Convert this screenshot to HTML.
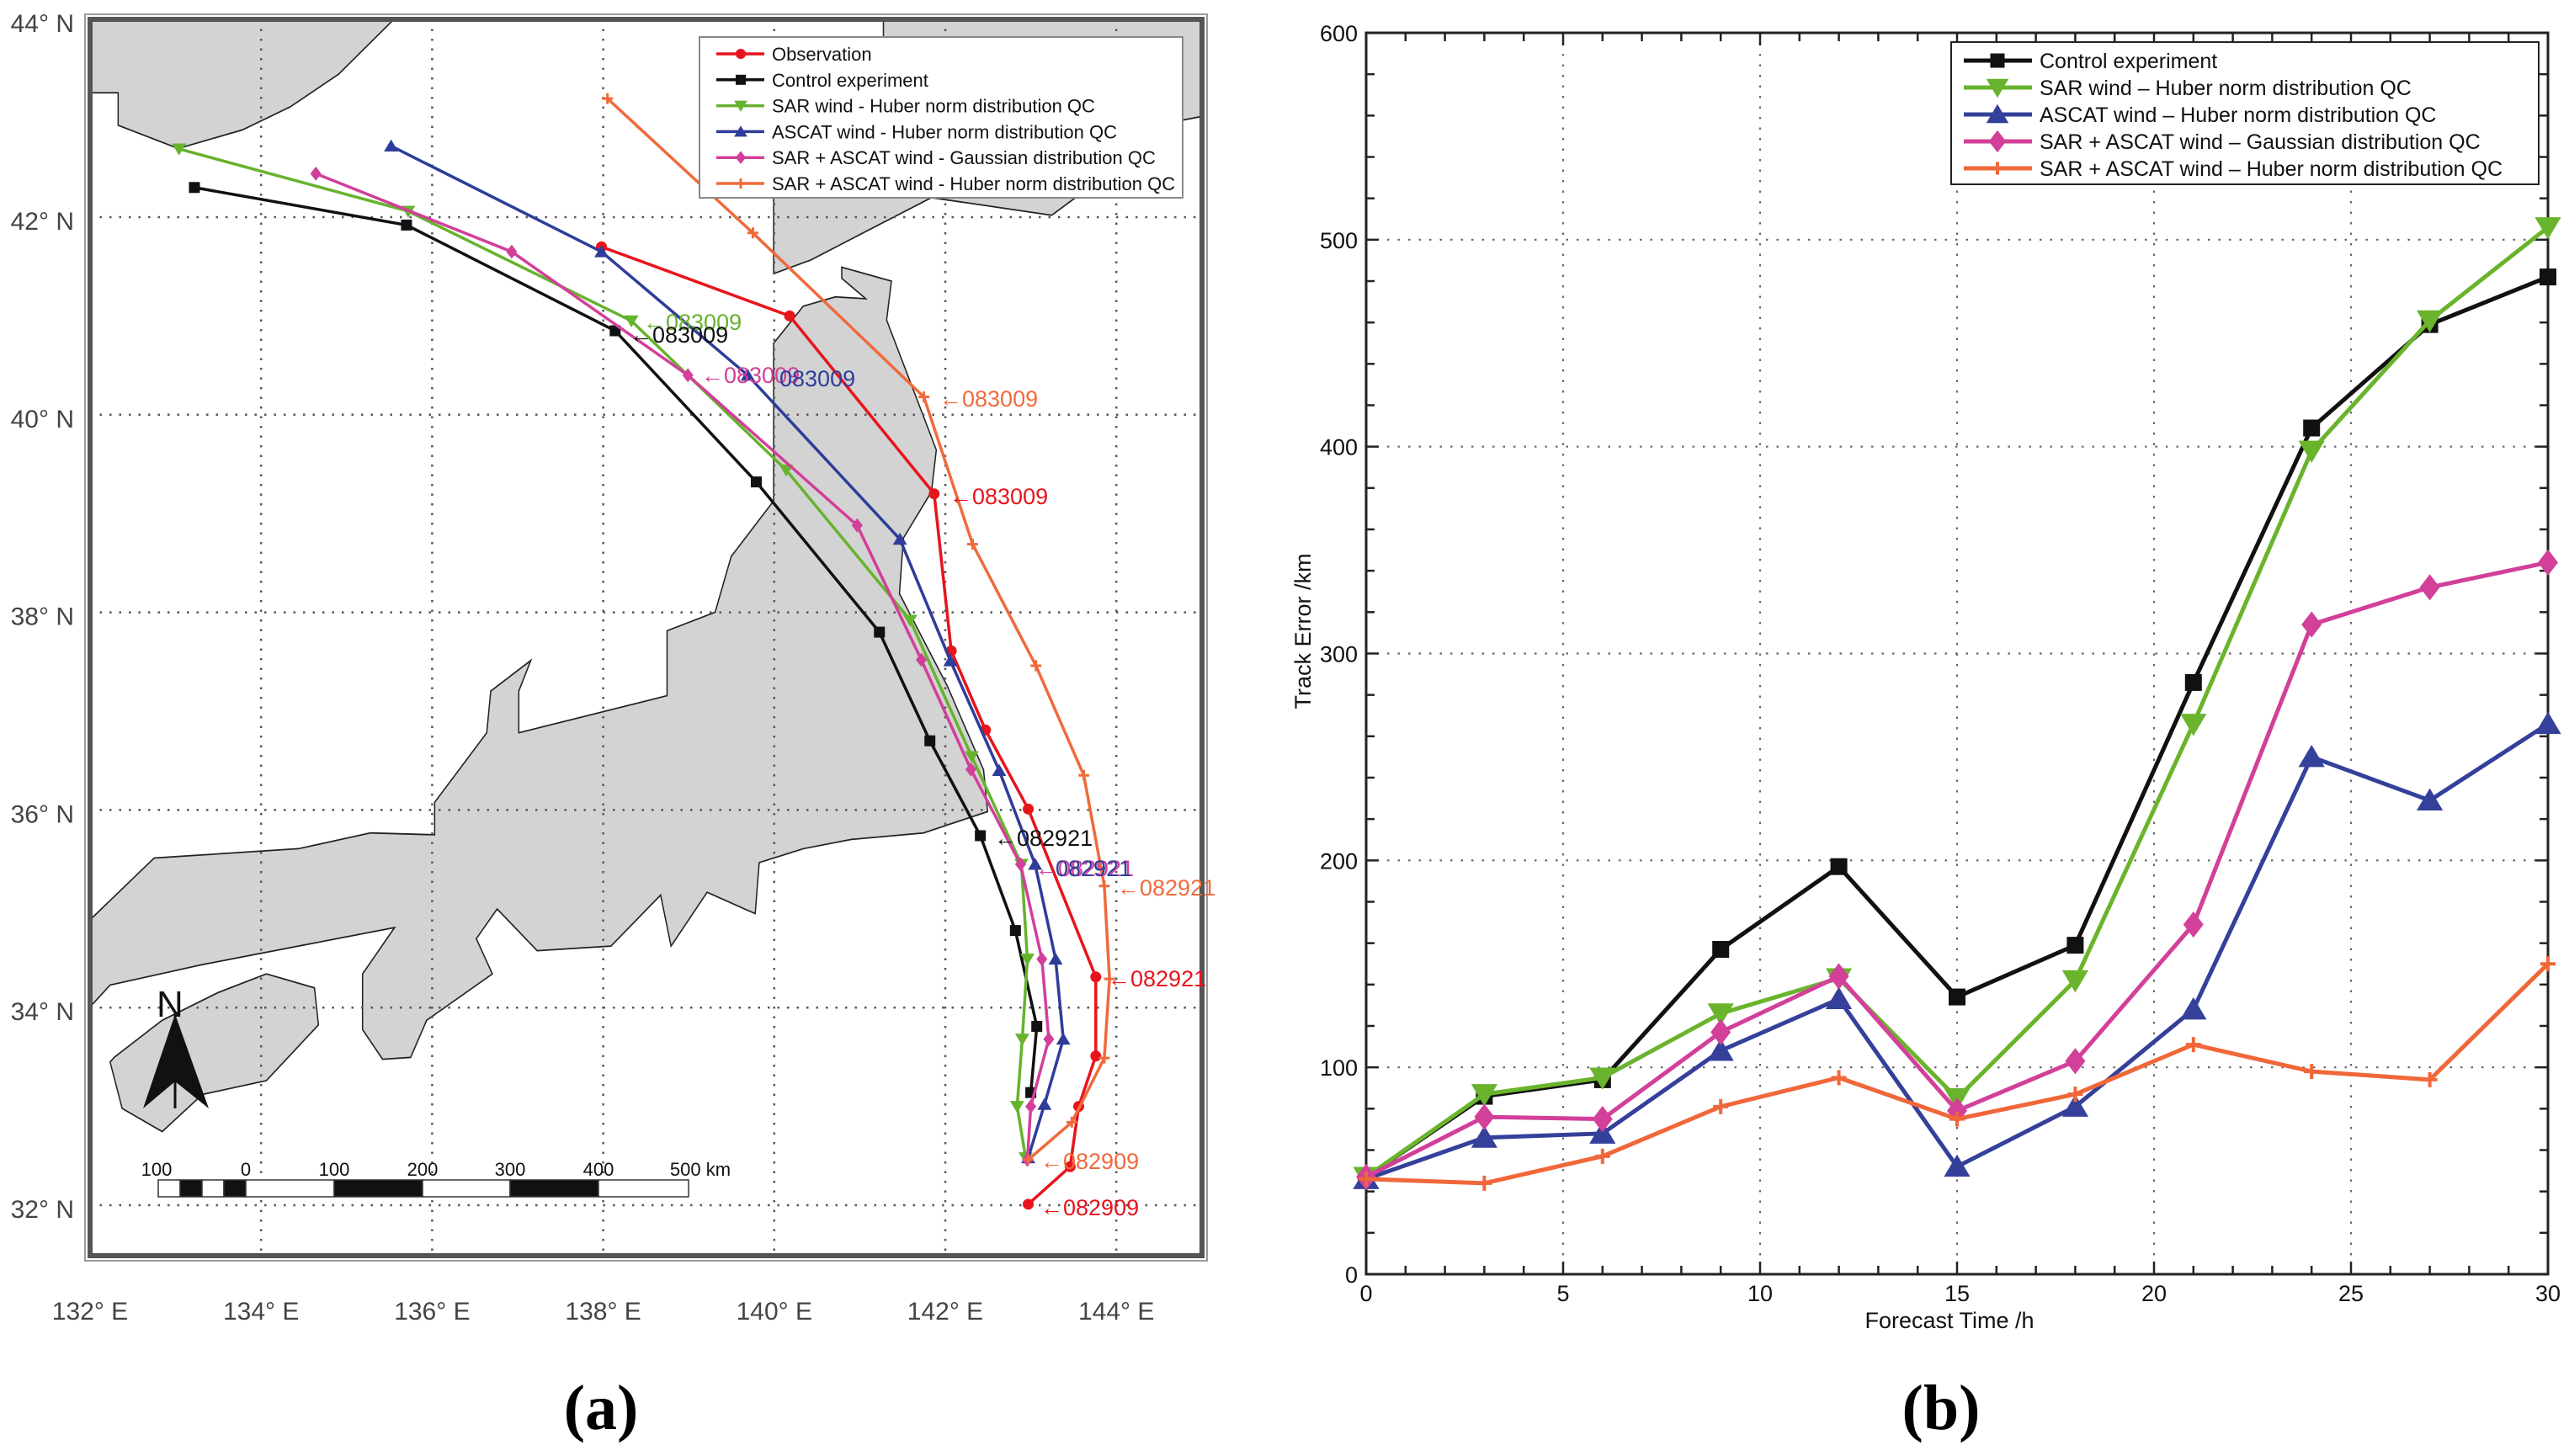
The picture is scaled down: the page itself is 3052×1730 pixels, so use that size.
<!DOCTYPE html>
<html><head><meta charset="utf-8"><style>
html,body{margin:0;padding:0;background:#fff}
svg{display:block}
text{font-family:"Liberation Sans",sans-serif}
</style></head><body>
<svg id="fig" xmlns="http://www.w3.org/2000/svg" width="3052" height="1730" viewBox="0 0 3052 1730">
<defs>
<clipPath id="mapclip"><rect x="107" y="23" width="1321" height="1469"/></clipPath>
</defs>
<g id="mapPanel">
  <g clip-path="url(#mapclip)">
    <g transform="matrix(0.952,0,0,1.102,2.3,0.1)" fill="#d3d3d3" stroke="#222" stroke-width="1.6">
      <polygon points="100,10 500,10 490,20 420,80 360,115 300,140 220,160 145,135 145,100 100,100"/>
      <polygon points="1100,10 1465,10 1500,25 1500,125 1470,130 1310,232 1160,213 1077,250 1010,280 963,295 963,213 1100,40"/>
      <polygon points="1048,288 1110,303 1104,345 1166,485 1160,530 1125,580 1120,640 1180,740 1225,830 1230,875 1150,898 1060,905 1000,915 945,930 940,985 880,962 835,1020 822,965 760,1020 668,1025 618,980 592,1012 612,1050 530,1100 510,1140 475,1142 450,1110 450,1050 490,1000 370,1020 250,1040 135,1062 100,1095 100,1000 190,925 370,915 460,898 540,900 540,865 605,790 610,745 660,712 645,745 645,790 830,750 830,680 890,660 910,600 963,540 963,370 1000,330 1040,320 1078,322 1048,300"/>
      <polygon points="140,1140 200,1100 270,1070 330,1050 390,1065 395,1105 330,1165 250,1180 200,1220 150,1195 135,1145"/>
    </g>
  </g>
  <g id="mapGrid" stroke="#555" stroke-width="2.5" stroke-dasharray="2.5 9"></g>
  <rect x="107" y="23" width="1321" height="1469" fill="none" stroke="#555" stroke-width="6"/>
  <rect x="101" y="17" width="1333" height="1481" fill="none" stroke="#999" stroke-width="2"/>
  <g id="mapAxes" fill="#444" font-size="30"></g>
  <g id="mapTracks"></g>
  <g font-size="27">
    <text x="764" y="392" fill="#66b32e">←083009</text>
    <text x="748" y="407" fill="#111">←083009</text>
    <text x="833" y="455" fill="#d23f9a">←083009</text>
    <text x="926" y="459" fill="#2e3d9a">083009</text>
    <text x="1116" y="483" fill="#f06a3c">←083009</text>
    <text x="1128" y="599" fill="#e8141c">←083009</text>
    <text x="1181" y="1005" fill="#111">←082921</text>
    <text x="1230" y="1041" fill="#d23f9a">←082921</text>
    <text x="1254" y="1041" fill="#2e3d9a">082921</text>
    <text x="1327" y="1064" fill="#f06a3c">←082921</text>
    <text x="1316" y="1172" fill="#e8141c">←082921</text>
    <text x="1236" y="1389" fill="#f06a3c">←082909</text>
    <text x="1236" y="1444" fill="#e8141c">←082909</text>
  </g>
  <g id="mapLegend"></g>
  <g id="scaleBar"></g>
  <g>
    <text x="186" y="1208" font-size="44" fill="#111">N</text>
    <polygon points="208,1205 170,1317 208,1285 248,1317" fill="#111"/>
    <line x1="208" y1="1205" x2="208" y2="1317" stroke="#111" stroke-width="3"/>
  </g>
  <text x="714" y="1698" font-size="76" font-weight="bold" text-anchor="middle" style="font-family:'Liberation Serif',serif">(a)</text>
</g>
<g id="chartPanel">
  <text x="2316" y="1578" font-size="27" text-anchor="middle" fill="#111">Forecast Time /h</text>
  <text transform="translate(1557,750) rotate(-90)" font-size="27" text-anchor="middle" fill="#111">Track Error /km</text>
  <text x="2306" y="1698" font-size="76" font-weight="bold" text-anchor="middle" style="font-family:'Liberation Serif',serif">(b)</text>
</g>
</svg>
<script>
// ---------- Map data (lon/lat of track points) ----------
var obsLon = [137.98,140.18,141.87,142.07,142.47,142.97,143.76,143.76,143.56,143.46,142.97];
var obsLat = [41.70,41.00,39.20,37.61,36.81,36.01,34.31,33.51,33.00,32.39,32.01];
var ctlLon = [133.22,135.70,138.14,139.79,141.23,141.82,142.41,142.82,143.07,143.00];
var ctlLat = [42.30,41.92,40.85,39.32,37.80,36.70,35.74,34.78,33.81,33.14];
var sarLon = [133.04,135.72,138.33,140.14,141.59,142.31,142.89,142.96,142.90,142.84,142.94];
var sarLat = [42.69,42.06,40.95,39.44,37.92,36.54,35.45,34.49,33.68,33.00,32.48];
var ascLon = [135.52,137.98,139.69,141.47,142.06,142.63,143.05,143.29,143.38,143.16,142.97];
var ascLat = [42.72,41.65,40.40,38.74,37.51,36.40,35.45,34.49,33.68,33.02,32.48];
var gauLon = [134.64,136.93,138.99,140.97,141.72,142.30,142.88,143.13,143.21,143.00,142.96];
var gauLat = [42.44,41.65,40.40,38.88,37.52,36.41,35.45,34.49,33.68,33.00,32.46];
var hubLon = [138.05,139.75,141.75,142.32,143.06,143.62,143.86,143.92,143.86,143.48,142.97];
var hubLat = [43.20,41.84,40.18,38.69,37.46,36.35,35.23,34.29,33.49,32.84,32.46];
var lonTicks = [132,134,136,138,140,142,144];
var latTicks = [32,34,36,38,40,42,44];
var mapLegendLabels = ["Observation","Control experiment","SAR wind - Huber norm distribution QC","ASCAT wind - Huber norm distribution QC","SAR + ASCAT wind - Gaussian distribution QC","SAR + ASCAT wind - Huber norm distribution QC"];
var scaleLabels = ["100","0","100","200","300","400","500 km"];

// ---------- Chart data ----------
var hours = [0,3,6,9,12,15,18,21,24,27,30];
var errControl = [47,86,94,157,197,134,159,286,409,459,482];
var errSar = [47,87,95,126,143,85,142,266,398,461,506];
var errAscat = [46,66,68,108,133,52,81,128,250,229,266];
var errGauss = [47,76,75,117,144,79,103,169,314,332,344];
var errHuber = [46,44,57,81,95,75,87,111,98,94,150];
var xTickLabels = ["0","5","10","15","20","25","30"];
var yTickLabels = ["0","100","200","300","400","500","600"];
var chartLegendLabels = ["Control experiment","SAR wind \u2013 Huber norm distribution QC","ASCAT wind \u2013 Huber norm distribution QC","SAR + ASCAT wind \u2013 Gaussian distribution QC","SAR + ASCAT wind \u2013 Huber norm distribution QC"];

var NS = "http://www.w3.org/2000/svg";
function mk(tag, attrs, parent){var e=document.createElementNS(NS,tag);for(var k in attrs)e.setAttribute(k,attrs[k]);parent.appendChild(e);return e;}
function mapX(lon){return 107+(lon-132)*101.6;}
function mapY(lat){return 258-(lat-42)*117.4;}
function marker(type,x,y,s,color,parent){
  var e;
  if(type==="circle") e=mk("circle",{cx:x,cy:y,r:s/2,fill:color},parent);
  else if(type==="square") e=mk("rect",{x:x-s/2,y:y-s/2,width:s,height:s,fill:color},parent);
  else if(type==="down") e=mk("polygon",{points:(x-s*0.65)+","+(y-s*0.5)+" "+(x+s*0.65)+","+(y-s*0.5)+" "+x+","+(y+s*0.6),fill:color},parent);
  else if(type==="up") e=mk("polygon",{points:(x-s*0.65)+","+(y+s*0.5)+" "+(x+s*0.65)+","+(y+s*0.5)+" "+x+","+(y-s*0.6),fill:color},parent);
  else if(type==="diamond") e=mk("polygon",{points:x+","+(y-s*0.65)+" "+(x+s*0.5)+","+y+" "+x+","+(y+s*0.65)+" "+(x-s*0.5)+","+y,fill:color},parent);
  else e=mk("path",{d:"M"+(x-s/2)+","+y+"H"+(x+s/2)+"M"+x+","+(y-s/2)+"V"+(y+s/2),stroke:color,"stroke-width":3,fill:"none"},parent);
  return e;
}

// ---- map grid & axis labels ----
var grid=document.getElementById("mapGrid");
lonTicks.forEach(function(l){
  if(l>132){var g=mk("line",{x1:mapX(l),y1:23,x2:mapX(l),y2:1492},grid);
  
  }
});
latTicks.forEach(function(l){
  if(l<44){var g=mk("line",{x1:107,y1:mapY(l),x2:1428,y2:mapY(l)},grid);
  
  }
});
var axes=document.getElementById("mapAxes");
lonTicks.forEach(function(l){
  var t=mk("text",{x:mapX(l),y:1568,"text-anchor":"middle"},axes);
  t.textContent=l+"\u00b0 E";
  
  
});
latTicks.forEach(function(l){
  var t=mk("text",{x:88,y:mapY(l)+15,"text-anchor":"end"},axes);
  t.textContent=l+"\u00b0 N";
  
  
});

// ---- map tracks ----
var tracks=document.getElementById("mapTracks");
var mapSeries=[
  {lon:obsLon,lat:obsLat,c:"#e8141c",m:"circle",n:"observation-track"},
  {lon:ctlLon,lat:ctlLat,c:"#111111",m:"square",n:"control-track"},
  {lon:sarLon,lat:sarLat,c:"#66b32e",m:"down",n:"sar-huber-track"},
  {lon:ascLon,lat:ascLat,c:"#2e3d9a",m:"up",n:"ascat-huber-track"},
  {lon:gauLon,lat:gauLat,c:"#d23f9a",m:"diamond",n:"sar-ascat-gauss-track"},
  {lon:hubLon,lat:hubLat,c:"#f06a3c",m:"plus",n:"sar-ascat-huber-track"}
];
mapSeries.forEach(function(s){
  var g=mk("g",{},tracks);
  
  
  var pts=s.lon.map(function(v,i){return mapX(v)+","+mapY(s.lat[i]);}).join(" ");
  var pl=mk("polyline",{points:pts,fill:"none",stroke:s.c,"stroke-width":3.5},g);
  
  
  s.lon.forEach(function(v,i){
    var mm=marker(s.m,mapX(v),mapY(s.lat[i]),13,s.c,g);
    
    
  });
});

// ---- map legend ----
var ml=document.getElementById("mapLegend");
var box=mk("rect",{x:831,y:44,width:574,height:191,fill:"#fff",stroke:"#888","stroke-width":2},ml);


mapLegendLabels.forEach(function(lbl,i){
  var y=64+i*30.8, s=mapSeries[i];
  var g=mk("g",{},ml);
  
  
  mk("line",{x1:851,y1:y,x2:908,y2:y,stroke:s.c,"stroke-width":3.5},g);
  marker(s.m,880,y,12,s.c,g);
  var t=mk("text",{x:917,y:y+8,"font-size":22,fill:"#111"},g);
  t.textContent=lbl;
});

// ---- scale bar ----
var sb=document.getElementById("scaleBar");
var seg=[[188,214,0],[214,240,1],[240,266,0],[266,292,1],[292,397,0],[397,502,1],[502,606,0],[606,711,1],[711,818,0]];
seg.forEach(function(s){
  var r=mk("rect",{x:s[0],y:1402,width:s[1]-s[0],height:20,fill:s[2]?"#111":"#fff",stroke:"#333","stroke-width":1.5},sb);
  
  
});
var slx=[186,292,397,502,606,711,832];
scaleLabels.forEach(function(l,i){
  var t=mk("text",{x:slx[i],y:1397,"font-size":22,"text-anchor":"middle",fill:"#111"},sb);
  t.textContent=l;
  
  
});

// ---------- Chart ----------
var cp=document.getElementById("chartPanel");
var X0=1623,X1=3027,Y0=1514,Y1=39;
function cx(h){return X0+(h/30)*(X1-X0);}
function cy(v){return Y0-(v/600)*(Y0-Y1);}
var cg=mk("g",{stroke:"#666","stroke-width":2.2,"stroke-dasharray":"2.5 10"},cp);


for(var h=5;h<30;h+=5) mk("line",{x1:cx(h),y1:Y1,x2:cx(h),y2:Y0},cg);
for(var v=100;v<600;v+=100) mk("line",{x1:X0,y1:cy(v),x2:X1,y2:cy(v)},cg);
var tk=mk("g",{stroke:"#222","stroke-width":2.5},cp);


for(var h=1;h<30;h++){var L=(h%5===0)?15:10;
  mk("line",{x1:cx(h),y1:Y0,x2:cx(h),y2:Y0-L},tk);
  mk("line",{x1:cx(h),y1:Y1,x2:cx(h),y2:Y1+L},tk);}
for(var v=20;v<600;v+=20){var L=(v%100===0)?15:10;
  mk("line",{x1:X0,y1:cy(v),x2:X0+L,y2:cy(v)},tk);
  mk("line",{x1:X1,y1:cy(v),x2:X1-L,y2:cy(v)},tk);}
var fr=mk("rect",{x:X0,y:Y1,width:X1-X0,height:Y0-Y1,fill:"none",stroke:"#222","stroke-width":3},cp);


xTickLabels.forEach(function(l){
  var t=mk("text",{x:cx(+l),y:1546,"font-size":27,"text-anchor":"middle",fill:"#111"},cp);
  t.textContent=l;
  
  
});
yTickLabels.forEach(function(l){
  var t=mk("text",{x:1613,y:cy(+l)+10,"font-size":27,"text-anchor":"end",fill:"#111"},cp);
  t.textContent=l;
  
  
});
var chartSeries=[
  {d:errControl,c:"#111111",m:"square",s:20,n:"series-control"},
  {d:errSar,c:"#6ab42d",m:"down",s:24,n:"series-sar-huber"},
  {d:errAscat,c:"#34409a",m:"up",s:24,n:"series-ascat-huber"},
  {d:errGauss,c:"#d2409a",m:"diamond",s:24,n:"series-sar-ascat-gauss"},
  {d:errHuber,c:"#f0673a",m:"plus",s:18,n:"series-sar-ascat-huber"}
];
chartSeries.forEach(function(s){
  var g=mk("g",{},cp);
  
  
  var pts=s.d.map(function(v,i){return cx(hours[i])+","+cy(v);}).join(" ");
  var pl=mk("polyline",{points:pts,fill:"none",stroke:s.c,"stroke-width":5},g);
  
  
  s.d.forEach(function(v,i){
    var mm=marker(s.m,cx(hours[i]),cy(v),s.s,s.c,g);
    if(s.m==="plus") mm.setAttribute("stroke-width",4);
    
    
  });
});
var lg=mk("g",{},cp);


mk("rect",{x:2318,y:50,width:698,height:169,fill:"#fff",stroke:"#222","stroke-width":2},lg);
chartLegendLabels.forEach(function(lbl,i){
  var y=72+i*32, s=chartSeries[i];
  var g=mk("g",{},lg);
  
  
  mk("line",{x1:2333,y1:y,x2:2414,y2:y,stroke:s.c,"stroke-width":5},g);
  var mm=marker(s.m,2373,y,s.s*0.85,s.c,g);
  if(s.m==="plus") mm.setAttribute("stroke-width",4);
  var t=mk("text",{x:2423,y:y+9,"font-size":25,fill:"#111"},g);
  t.textContent=lbl;
});
</script>
</body></html>
